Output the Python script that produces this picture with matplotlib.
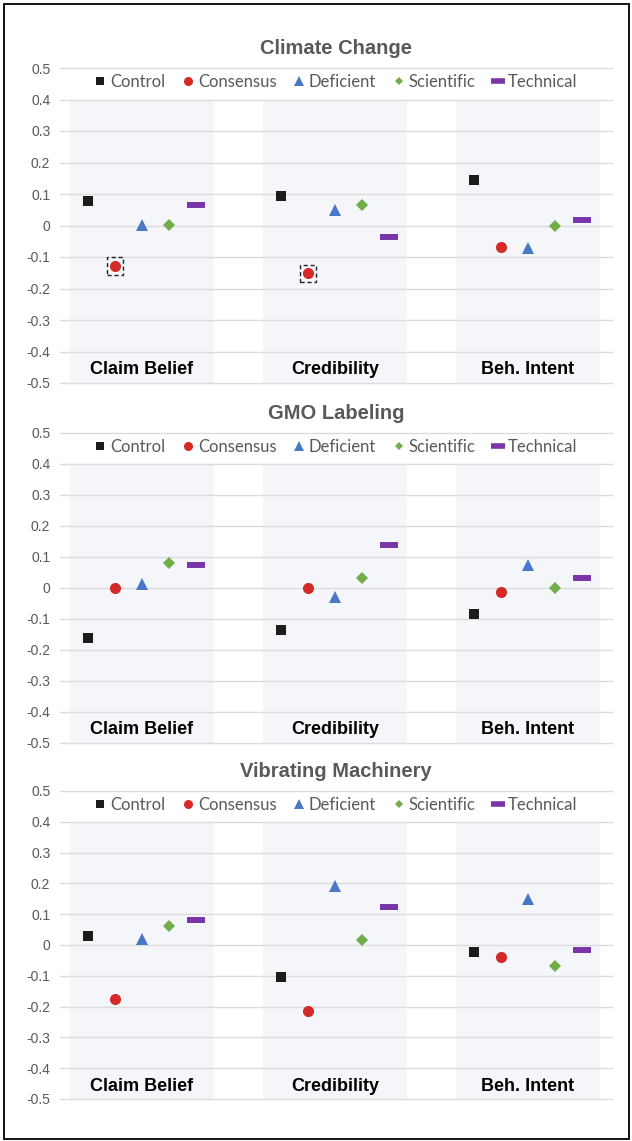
import matplotlib
matplotlib.use("Agg")
import matplotlib.pyplot as plt
from matplotlib.lines import Line2D
from matplotlib.patches import Rectangle
import numpy as np

plt.rcParams['axes.unicode_minus'] = False

categories = ['Claim Belief', 'Credibility', 'Beh. Intent']
series_names = ['Control', 'Consensus', 'Deficient', 'Scientific', 'Technical']
panel_titles = ['Climate Change', 'GMO Labeling', 'Vibrating Machinery']
y_ticks = [0.5, 0.4, 0.3, 0.2, 0.1, 0, -0.1, -0.2, -0.3, -0.4, -0.5]
y_tick_labels = ['0.5', '0.4', '0.3', '0.2', '0.1', '0', '-0.1', '-0.2', '-0.3', '-0.4', '-0.5']

climate_control = [0.077, 0.093, 0.144]
climate_consensus = [-0.128, -0.152, -0.067]
climate_deficient = [0.003, 0.050, -0.070]
climate_scientific = [0.002, 0.066, -0.001]
climate_technical = [0.065, -0.037, 0.018]

gmo_control = [-0.161, -0.137, -0.085]
gmo_consensus = [0.001, 0.001, -0.012]
gmo_deficient = [0.012, -0.028, 0.075]
gmo_scientific = [0.080, 0.033, 0.000]
gmo_technical = [0.075, 0.138, 0.032]

vm_control = [0.028, -0.104, -0.024]
vm_consensus = [-0.175, -0.214, -0.039]
vm_deficient = [0.020, 0.190, 0.149]
vm_scientific = [0.062, 0.015, -0.067]
vm_technical = [0.080, 0.124, -0.015]

# highlighted (dashed box) points: (panel, series, category)
highlights = [(0, 1, 0), (0, 1, 1)]

panels = [
    [climate_control, climate_consensus, climate_deficient, climate_scientific, climate_technical],
    [gmo_control, gmo_consensus, gmo_deficient, gmo_scientific, gmo_technical],
    [vm_control, vm_consensus, vm_deficient, vm_scientific, vm_technical],
]

colors = ['#1c1c1c', '#d42a2a', '#4a78c8', '#72ad4a', '#7a35a8']
markers = ['s', 'o', '^', 'D', '_']
msizes = [7.2, 8.0, 8.3, 6.0, 12.5]
mews = [0, 0, 0, 0, 4.3]
leg_msizes = [6.0, 6.5, 6.5, 4.3, 9.5]
leg_mews = [0, 0, 0, 0, 4.0]
offsets = [-0.28, -0.14, 0.0, 0.14, 0.28]

W, H = 632, 1141
fig = plt.figure(figsize=(W / 100, H / 100), dpi=100)

# axes pixel boxes (top, bottom)
boxes = [(68, 383), (433, 743), (791, 1099)]
left_px, right_px = 60, 612
gray = '#595959'

for pi, (top, bot) in enumerate(boxes):
    ax = fig.add_axes([left_px / W, 1 - bot / H, (right_px - left_px) / W, (bot - top) / H])
    ax.set_xlim(-0.425, 2.435)
    ax.set_ylim(-0.5, 0.5)
    for s in ax.spines.values():
        s.set_visible(False)
    ax.set_xticks([])
    ax.set_yticks(y_ticks)
    ax.set_yticklabels(y_tick_labels, fontsize=10, color=gray, family='Liberation Sans')
    ax.tick_params(axis='y', length=0, pad=7)
    for yt in y_ticks:
        ax.axhline(yt, color='#dcdcdc', lw=1.0, zorder=1, clip_on=False)
    xc = np.arange(len(categories))
    for c in xc:
        ax.fill_between([c - 0.375, c + 0.375], -0.5, 0.4, color='#f4f6f9', zorder=0, lw=0)
        ax.text(c, -0.458, categories[c], ha='center', va='center', fontsize=13,
                fontweight='bold', family='Liberation Sans', color='black', zorder=3)
    for si, vals in enumerate(panels[pi]):
        ax.plot(xc + offsets[si], vals, linestyle='none', marker=markers[si],
                markersize=msizes[si], color=colors[si], markeredgewidth=mews[si],
                zorder=4)
    for (hp, hs, hc) in highlights:
        if hp == pi:
            xv = hc + offsets[hs]
            yv = panels[pi][hs][hc]
            bw, bh = 0.085, 0.056
            ax.add_patch(Rectangle((xv - bw / 2, yv - bh / 2), bw, bh, fill=False,
                                   edgecolor='#222222', lw=1.0, linestyle=(0, (3, 2)), zorder=5))
    ax.set_title(panel_titles[pi], fontsize=14.5, fontweight='bold', color=gray,
                 family='Liberation Sans', pad=10)
    handles = [Line2D([], [], linestyle='none', marker=markers[i], markersize=leg_msizes[i],
                      color=colors[i], markeredgewidth=leg_mews[i]) for i in range(5)]
    ax.legend(handles, series_names, loc='center', bbox_to_anchor=(0.5, 0.955), ncol=5,
              frameon=False, handlelength=0.7, handletextpad=0.25, columnspacing=1.0,
              prop={'family': 'Lato', 'size': 12}, labelcolor=gray, borderaxespad=0)

fig.add_artist(Rectangle((4 / W, 2 / H), 625 / W, 1135 / H, transform=fig.transFigure,
                         fill=False, edgecolor='black', lw=1.3))

fig.savefig('out.png', dpi=100)
